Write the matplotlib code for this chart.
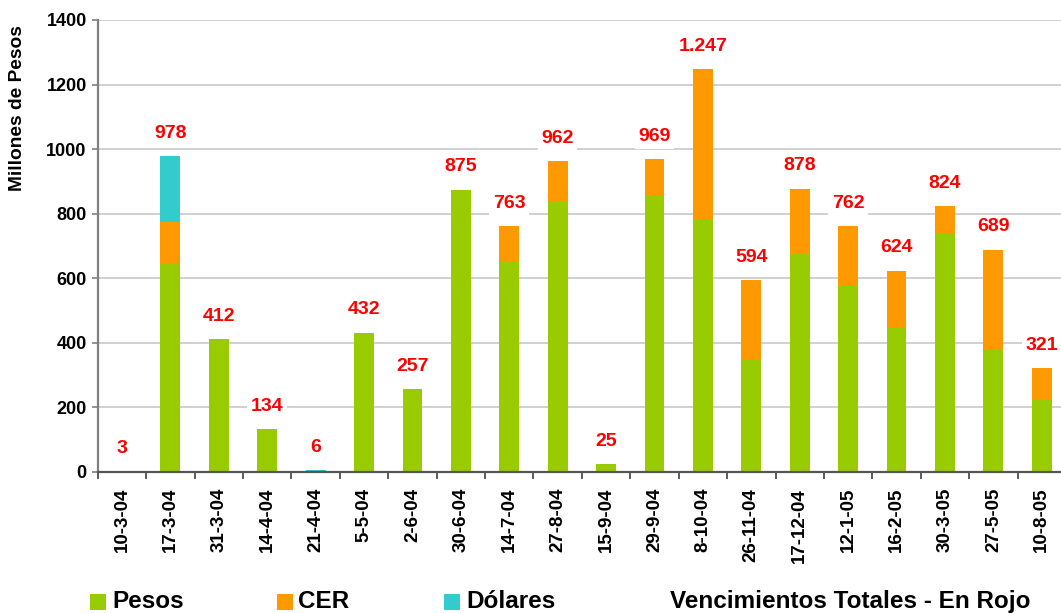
import matplotlib
matplotlib.use('Agg')
import matplotlib.pyplot as plt
from matplotlib.patches import Rectangle
import numpy as np

plt.rcParams['font.family'] = ['Liberation Sans', 'DejaVu Sans']
plt.rcParams['font.weight'] = 'bold'

fechas = ['10-3-04', '17-3-04', '31-3-04', '14-4-04', '21-4-04', '5-5-04', '2-6-04',
          '30-6-04', '14-7-04', '27-8-04', '15-9-04', '29-9-04', '8-10-04', '26-11-04',
          '17-12-04', '12-1-05', '16-2-05', '30-3-05', '27-5-05', '10-8-05']
pesos   = [0, 647, 412, 134, 0, 432, 257, 875, 650, 837, 25, 858, 781, 348, 678, 577, 447, 739, 381, 224]
cer     = [0, 128, 0, 0, 0, 0, 0, 0, 113, 125, 0, 111, 466, 246, 200, 185, 177, 85, 308, 97]
dolares = [3, 203, 0, 0, 6, 0, 0, 0, 0, 0, 0, 0, 0, 0, 0, 0, 0, 0, 0, 0]

c_pesos = '#99CC00'; c_cer = '#FF9900'; c_dol = '#33CCCC'

W, H = 1061, 613
fig = plt.figure(figsize=(W/100., H/100.), dpi=100)
ax = fig.add_axes([97.8/W, 141./H, (1066-97.8)/W, 452./H])

x = np.arange(len(fechas))
p = np.array(pesos); c = np.array(cer); d = np.array(dolares)
bw = 0.41
ax.bar(x, p, bw, color=c_pesos, zorder=3)
ax.bar(x, c, bw, bottom=p, color=c_cer, zorder=3)
ax.bar(x, d, bw, bottom=p+c, color=c_dol, zorder=3)

total = p + c + d
for xi, t in zip(x, total):
  lab = '{:,}'.format(int(t)).replace(',', '.')
  ax.annotate(lab, (xi, t), xytext=(0, 13), textcoords='offset points',
              ha='center', va='baseline', color='#FF0000', fontsize=14, fontweight='bold',
              bbox=dict(facecolor='white', edgecolor='none', pad=2.5), zorder=4)

ax.set_xlim(-0.5, len(fechas)-0.5)
ax.set_ylim(0, 1400)
ax.set_yticks(range(0, 1401, 200))
ax.yaxis.grid(True, color='#c8c8c8', linewidth=1.2, zorder=0)
ax.set_axisbelow(True)

ax.set_xticks(x)
ax.set_xticks(np.arange(-0.5, len(fechas), 1.0), minor=True)
ax.set_xticklabels(fechas, rotation=90, va='top')
ax.tick_params(axis='x', which='major', length=0, pad=11.5, labelsize=13.5)
ax.tick_params(axis='x', which='minor', length=5, width=1.2, color='#404040', direction='out')
ax.tick_params(axis='y', length=4, width=1.2, color='#808080', labelsize=13, pad=4)
for lbl in ax.get_yticklabels() + ax.get_xticklabels():
  lbl.set_fontweight('bold')

for s in ['top', 'right']:
  ax.spines[s].set_visible(False)
ax.spines['left'].set_color('#808080'); ax.spines['left'].set_linewidth(1.6)
ax.spines['bottom'].set_color('#555555'); ax.spines['bottom'].set_linewidth(1.6)
ax.spines['bottom'].set_zorder(5)

fig.text(18./W, 1-108./H, 'Millones de Pesos', rotation=90, ha='center', va='center',
         fontsize=13.8, fontweight='bold')

# leyenda manual
items = [(90, 112, c_pesos, 'Pesos'), (277, 298, c_cer, 'CER'), (444, 466, c_dol, 'Dólares')]
for px, tx, col, txt in items:
  fig.add_artist(Rectangle((px/W, (613-610.)/H), 16./W, 16./H, transform=fig.transFigure,
                           facecolor=col, edgecolor='none'))
  fig.text(tx/W, (613-608.)/H, txt, ha='left', va='baseline', fontsize=17.5, fontweight='bold')
fig.text(670./W, (613-608.)/H, 'Vencimientos Totales - En Rojo', ha='left', va='baseline',
         fontsize=17.5, fontweight='bold')

plt.savefig('out.png', dpi=100)
